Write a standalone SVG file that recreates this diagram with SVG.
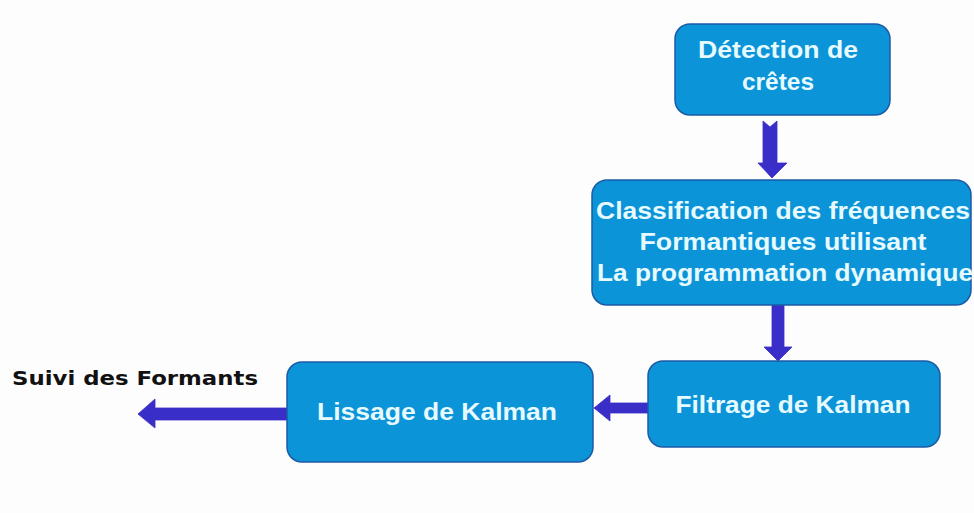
<svg xmlns="http://www.w3.org/2000/svg" width="974" height="513" viewBox="0 0 974 513">
<style>
.box{fill:#0b94d8;stroke:#1d5aa6;stroke-width:1.5}
.t{font-family:"Liberation Sans",Arial,sans-serif;font-weight:bold;fill:#e6faff;text-anchor:middle;font-size:23px}
.arr{fill:#3a2ec8;stroke:#3a2ec8;stroke-width:0.8;stroke-linejoin:round}
.lbl{font-family:"DejaVu Sans",Verdana,sans-serif;font-weight:bold;fill:#111}
</style>
<rect width="974" height="513" fill="#fdfdfd"/>
<g id="connectors">
<polygon class="arr" points="763,121 770,127 777,121 777,163 787,163 772,178 758,163 763,163"/>
<polygon class="arr" points="772,305 784,305 784,347 792,347 778,361 764,347 772,347"/>
<polygon class="arr" points="648,403 610,403 610,395 594,408 610,421 610,413 648,413"/>
<polygon class="arr" points="287,408 155,408 155,399 138,414 155,428 155,420 287,420"/>
</g>
<g id="n1">
<rect class="box" x="675" y="24" width="215" height="91" rx="15"/>
<text class="t" x="778" y="58" textLength="160" lengthAdjust="spacingAndGlyphs">Détection de</text>
<text class="t" x="778" y="90" textLength="72" lengthAdjust="spacingAndGlyphs">crêtes</text>
</g>
<g id="n2">
<rect class="box" x="592" y="180" width="379" height="125" rx="15"/>
<text class="t" x="783" y="219" textLength="374" lengthAdjust="spacingAndGlyphs">Classification des fréquences</text>
<text class="t" x="783" y="250" textLength="287" lengthAdjust="spacingAndGlyphs">Formantiques utilisant</text>
<text class="t" x="785" y="281" textLength="376" lengthAdjust="spacingAndGlyphs">La programmation dynamique</text>
</g>
<g id="n3">
<rect class="box" x="648" y="361" width="292" height="86" rx="15"/>
<text class="t" x="793" y="413" textLength="235" lengthAdjust="spacingAndGlyphs">Filtrage de Kalman</text>
</g>
<g id="n4">
<rect class="box" x="287" y="362" width="306" height="100" rx="15"/>
<text class="t" x="437" y="420" textLength="240" lengthAdjust="spacingAndGlyphs">Lissage de Kalman</text>
</g>
<text class="lbl" x="12" y="385" font-size="19" textLength="246" lengthAdjust="spacingAndGlyphs">Suivi des Formants</text>
</svg>
